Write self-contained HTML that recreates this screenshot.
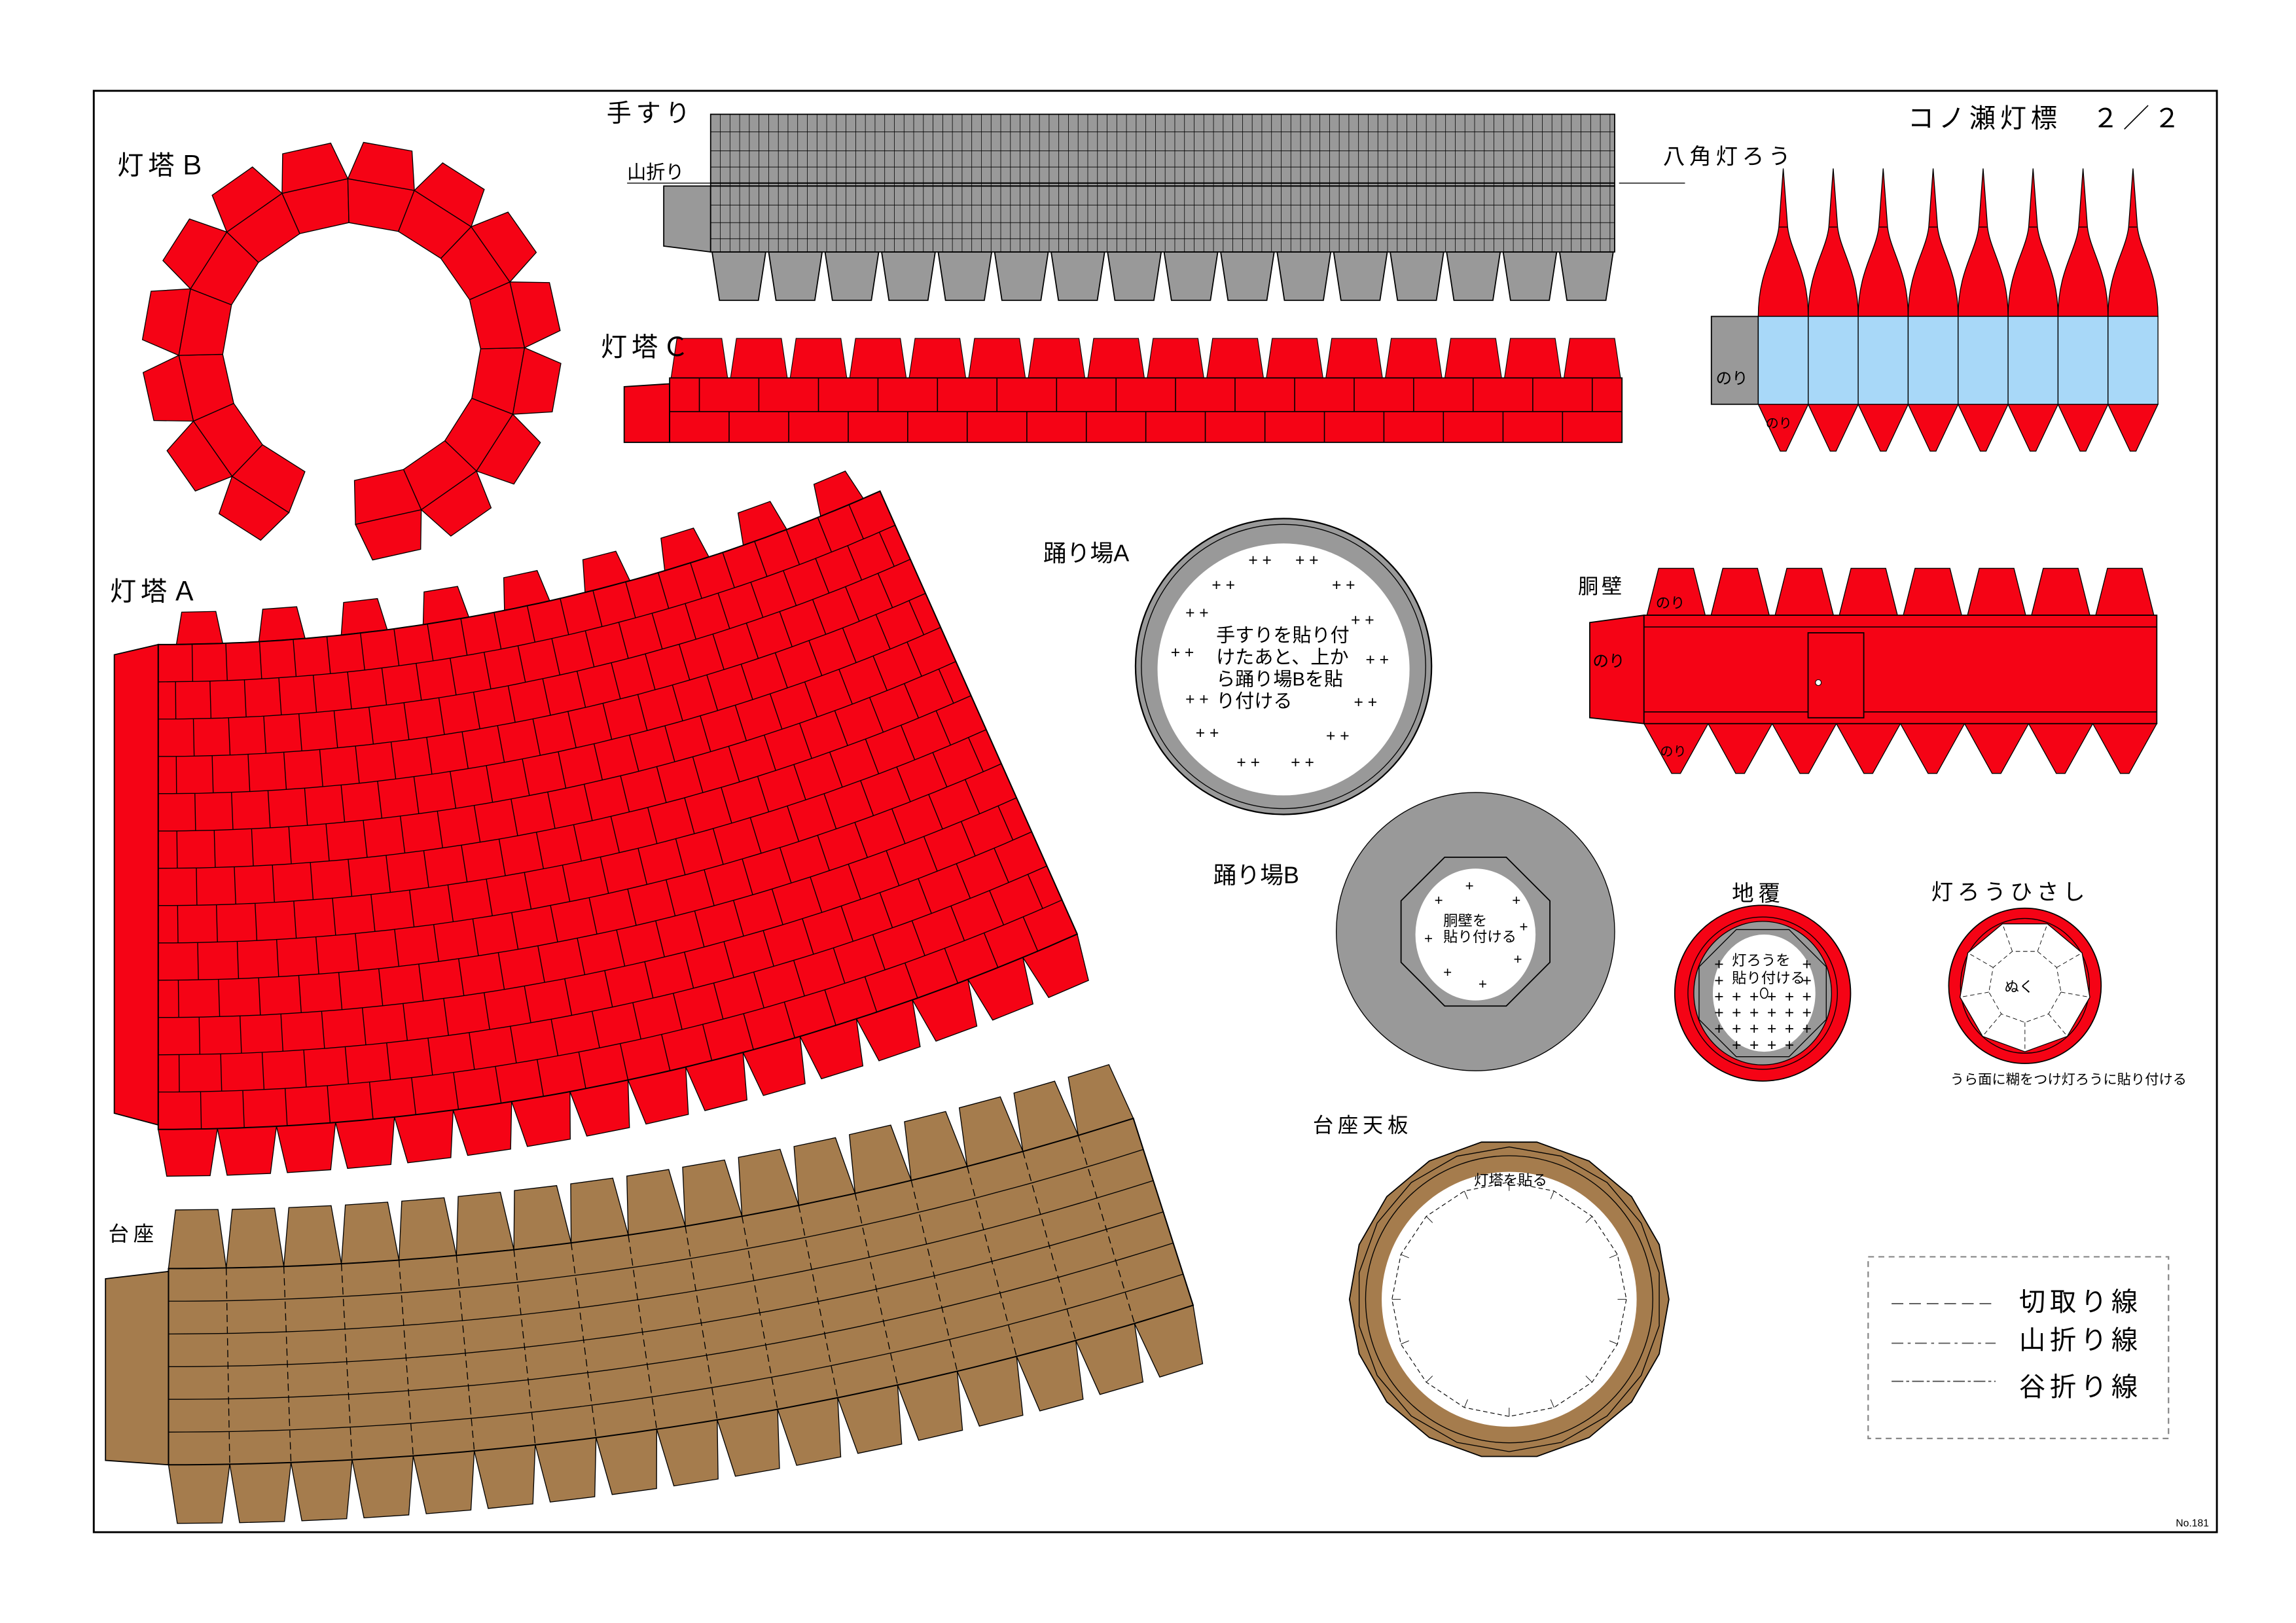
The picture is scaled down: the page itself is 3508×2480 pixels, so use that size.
<!DOCTYPE html>
<html><head><meta charset="utf-8"><style>
html,body{margin:0;padding:0;background:#fff;}
svg{display:block;}
text{font-family:"Liberation Sans","Noto Sans CJK JP",sans-serif;fill:#000;}
</style></head><body>
<svg id="s" xmlns="http://www.w3.org/2000/svg" width="3508" height="2480" viewBox="0 0 1567 1108" preserveAspectRatio="none">
<rect x="0" y="0" width="1567" height="1108" fill="#fff"/>
<rect x="64" y="62" width="1449" height="984" fill="none" stroke="#000" stroke-width="1.3"/>
<g id="g"></g>
<text x="1302" y="87" font-size="18" letter-spacing="3">コノ瀬灯標　２／２</text>
<text x="1485" y="1042" font-size="7">No.181</text>
<text x="414" y="83" font-size="17" letter-spacing="3">手すり</text>
<text x="428" y="122" font-size="13">山折り</text>
<line x1="428" y1="125" x2="485" y2="125" stroke="#000" stroke-width="0.6"/>
<text x="80" y="119" font-size="18" letter-spacing="3">灯塔Ｂ</text>
<text x="410" y="243" font-size="18" letter-spacing="3">灯塔Ｃ</text>
<text x="75" y="410" font-size="18" letter-spacing="3">灯塔Ａ</text>
<text x="74" y="847" font-size="14" letter-spacing="3">台座</text>
<text x="1135" y="112" font-size="15" letter-spacing="3">八角灯ろう</text>
<line x1="1105" y1="125" x2="1150" y2="125" stroke="#000" stroke-width="0.6"/>
<text x="1077" y="405" font-size="14" letter-spacing="2">胴壁</text>
<text x="712" y="383" font-size="16">踊り場A</text>
<text x="828" y="603" font-size="16">踊り場B</text>
<text x="1182" y="615" font-size="15" letter-spacing="3">地覆</text>
<text x="1318" y="614" font-size="15" letter-spacing="3">灯ろうひさし</text>
<text x="1331" y="740" font-size="9.5">うら面に糊をつけ灯ろうに貼り付ける</text>
<text x="896" y="773" font-size="14" letter-spacing="3">台座天板</text>
<rect x="1275" y="858" width="205" height="124" fill="none" stroke="#888" stroke-dasharray="4 3" stroke-width="1"/>
<line x1="1291" y1="890" x2="1362" y2="890" stroke="#555" stroke-dasharray="8 4" stroke-width="0.8"/>
<line x1="1291" y1="917" x2="1362" y2="917" stroke="#555" stroke-dasharray="8 3 2 3" stroke-width="0.8"/>
<line x1="1291" y1="943" x2="1362" y2="943" stroke="#555" stroke-dasharray="8 2 2 2" stroke-width="0.8"/>
<text x="1378" y="895" font-size="18" letter-spacing="3">切取り線</text>
<text x="1378" y="921" font-size="18" letter-spacing="3">山折り線</text>
<text x="1378" y="953" font-size="18" letter-spacing="3">谷折り線</text>
</svg>
<script>
var g=document.getElementById('g'),h='';
var R='#f50315',BR='#a57c4d',GY='#999';
function P(pts,f,sw,extra){return '<polygon points="'+pts.map(function(p){return p[0].toFixed(1)+','+p[1].toFixed(1)}).join(' ')+'" fill="'+f+'" stroke="#000" stroke-width="'+(sw||0.8)+'" '+(extra||'')+'/>';}
function L(a,b,sw,extra){return '<line x1="'+a[0].toFixed(1)+'" y1="'+a[1].toFixed(1)+'" x2="'+b[0].toFixed(1)+'" y2="'+b[1].toFixed(1)+'" stroke="#000" stroke-width="'+(sw||0.7)+'" '+(extra||'')+'/>';}
function pol(cx,cy,r,d){var a=d*Math.PI/180;return [cx+r*Math.cos(a),cy+r*Math.sin(a)];}
function T(x,y,s,t,fs){return '<text x="'+x+'" y="'+y+'" font-size="'+fs+'">'+t+'</text>';}

/* 手すり */
h+=P([[453,127],[485,127],[485,172],[453,168]],GY);
for(var i=0;i<16;i++){var w=(1102-485)/16,x=485+i*w;h+=P([[x+1,172],[x+w-1,172],[x+w-6,205],[x+6,205]],GY);}
h+='<rect x="485" y="78" width="617" height="94" fill="'+GY+'" stroke="#000" stroke-width="0.8"/>';
for(var x=485;x<1102;x+=6.6)h+=L([x,78],[x,172],0.35);
[90,103,114,125,127,140,152,163].forEach(function(y){h+=L([485,y],[1102,y],0.4);});
h+=L([485,125],[1102,125],0.9);h+=L([485,127],[1102,127],0.9);

/* 灯塔C */
h+=P([[426,264],[457,262],[457,302],[426,302]],R);
for(var i=0;i<16;i++){var w=(1107-457)/16,x=457+i*w;h+=P([[x+1,258],[x+w-1,258],[x+w-5,231],[x+5,231]],R,0.5);}
h+='<rect x="457" y="258" width="650" height="44" fill="'+R+'" stroke="#000" stroke-width="0.8"/>';
h+=L([457,281],[1107,281]);
for(var i=0;i<=16;i++){var w=(1107-457)/16;h+=L([457+i*w,281],[457+i*w,302]);var xx=457+(i+0.5)*w;if(xx<1107)h+=L([xx,258],[xx,281]);}

/* 灯塔B ring */
var cx=240,cy=240;
for(var k=0;k<16;k++){
 if(k==4)continue;
 var a=k*22.5+10,d=11.25;
 var r1=88,r2=118,r3=143;
 var p1=pol(cx,cy,r1,a-d),p2=pol(cx,cy,r1,a+d),p3=pol(cx,cy,r2,a+d),p4=pol(cx,cy,r2,a-d);
 h+=P([p1,p2,p3,p4],R,0.6);
 var t1=pol(cx,cy,r2,a-d),t2=pol(cx,cy,r2,a+d),t3=pol(cx,cy,r3,a+d*0.6),t4=pol(cx,cy,r3,a-d*0.6);
 h+=P([t1,t2,t3,t4],R,0.6);
}

function sector(cx,cy,ri,ro,a0,a1,fill,rows,cols,topTabs,topH,botTabs,botH,topSmall){
 var s='',pts=[],n=60;
 if(topTabs){for(var i=0;i<topTabs;i++){
   var w=(a1-a0)/topTabs, am=a0+(i+0.5)*w, hw=topSmall?w*0.28:w*0.5;
   var q=[pol(cx,cy,ri,am-hw),pol(cx,cy,ri,am+hw),pol(cx,cy,ri-topH,am+hw*0.75),pol(cx,cy,ri-topH,am-hw*0.75)];
   s+=P(q,fill,0.6);}}
 if(botTabs){for(var i=0;i<botTabs;i++){
   var w=(a1-a0)/botTabs, am=a0+(i+0.5)*w, hw=w*0.5;
   var q=[pol(cx,cy,ro,am-hw),pol(cx,cy,ro,am+hw),pol(cx,cy,ro+botH,am+hw*0.72),pol(cx,cy,ro+botH,am-hw*0.72)];
   s+=P(q,fill,0.6);}}
 for(var i=0;i<=n;i++)pts.push(pol(cx,cy,ri,a0+(a1-a0)*i/n));
 for(var i=n;i>=0;i--)pts.push(pol(cx,cy,ro,a0+(a1-a0)*i/n));
 s+=P(pts,fill,0.9);
 for(var r=1;r<rows;r++){var rr=ri+(ro-ri)*r/rows,q=[];
   for(var i=0;i<=n;i++)q.push(pol(cx,cy,rr,a0+(a1-a0)*i/n));
   s+='<polyline points="'+q.map(function(p){return p[0].toFixed(1)+','+p[1].toFixed(1)}).join(' ')+'" fill="none" stroke="#000" stroke-width="0.6"/>';}
 if(cols){for(var r=0;r<rows;r++){var rA=ri+(ro-ri)*r/rows,rB=ri+(ro-ri)*(r+1)/rows,off=(r%2)?0.5:0;
   for(var c=0;c<=cols;c++){var f=(c+off)/cols;if(f<=0.001||f>=0.999)continue;var a=a0+(a1-a0)*f;s+=L(pol(cx,cy,rA,a),pol(cx,cy,rB,a),0.6);}}}
 return s;
}
/* 灯塔A */
h+=P([[78,447],[108,440],[108,768],[78,760]],R);
h+=sector(108,-771,1211,1542,90,66,R,13,22,9,22,16,32,true);
h+=L([108,440],[108,768],0.7,'stroke-dasharray="4 2"');
/* 台座 */
h+=P([[72,873],[115,868],[115,1000],[72,997]],BR);
h+=sector(115,-1300,2166,2300,90,72.3,BR,6,0,17,40,17,40,false);
(function(){var cx=115,cy=-1300;for(var c=1;c<17;c++){var a=90+(72.3-90)*c/17;h+=L(pol(cx,cy,2166,a),pol(cx,cy,2300,a),0.6,'stroke-dasharray="5 3"');}})();

/* 八角灯ろう */
h+=P([[1168,216],[1200,216],[1200,276],[1168,276]],GY);
h+=T(1171,262,0,'のり',11);
for(var i=0;i<8;i++){var w=34.1,x=1200+i*w,m=x+w/2;
 h+='<path d="M'+x+',216 C'+x+',185 '+(m-5)+',172 '+(m-3)+',155 L'+m+',115 L'+(m+3)+',155 C'+(m+5)+',172 '+(x+w)+',185 '+(x+w)+',216 Z" fill="'+R+'" stroke="#000" stroke-width="0.6"/>';
 h+=L([m-3,155],[m+3,155],0.6);
 h+=P([[x,276],[x+w,276],[m+2,308],[m-2,308]],R,0.6);
 h+='<rect x="'+x+'" y="216" width="'+w+'" height="60" fill="#a8d8f8" stroke="#000" stroke-width="0.6"/>';}
h+=T(1205,292,0,'のり',9);

/* 胴壁 */
h+=P([[1085,425],[1122,420],[1122,494],[1085,490]],R);
for(var i=0;i<8;i++){var w=(1472-1122)/8,x=1122+i*w;
 h+=P([[x+2,420],[x+10,388],[x+w-10,388],[x+w-2,420]],R,0.6);
 h+=P([[x,494],[x+w,494],[x+w/2+3,528],[x+w/2-3,528]],R,0.6);}
h+='<rect x="1122" y="420" width="350" height="74" fill="'+R+'" stroke="#000" stroke-width="0.8"/>';
h+=L([1122,428],[1472,428]);h+=L([1122,486],[1472,486]);
h+='<rect x="1234" y="432" width="38" height="58" fill="'+R+'" stroke="#000" stroke-width="0.8"/><circle cx="1241" cy="466" r="2" fill="#fff" stroke="#000" stroke-width="0.5"/>';
h+=T(1130,415,0,'のり',10)+T(1087,455,0,'のり',11)+T(1133,516,0,'のり',9);

/* 踊り場A */
h+='<circle cx="876" cy="455" r="101" fill="'+GY+'" stroke="#000" stroke-width="1"/><circle cx="876" cy="455" r="97" fill="none" stroke="#000" stroke-width="0.6"/><circle cx="876" cy="457" r="86" fill="#fff"/>';
var pl=[[858,382],[890,382],[833,399],[915,399],[815,418],[928,423],[805,445],[938,450],[815,477],[930,479],[822,500],[911,502],[850,520],[887,520]];
pl.forEach(function(p){h+=T(p[0]-6,p[1]+4,0,'+&#160;+',11);});
h+=T(830,438,0,'手すりを貼り付',13)+T(830,453,0,'けたあと、上か',13)+T(830,468,0,'ら踊り場Bを貼',13)+T(830,483,0,'り付ける',13);

/* 踊り場B */
h+='<circle cx="1007" cy="636" r="95" fill="'+GY+'" stroke="#000" stroke-width="0.6"/>';
var oc=[];for(var k=0;k<8;k++)oc.push(pol(1007,636,55,k*45+22.5));h+=P(oc,GY,0.8);
h+='<ellipse cx="1007" cy="638" rx="41" ry="45" fill="#fff"/>';
h+=T(985,632,0,'胴壁を',10)+T(985,643,0,'貼り付ける',10);
[[1003,605],[982,615],[1035,615],[1040,633],[1036,655],[975,641],[988,664],[1012,672]].forEach(function(p){h+=T(p[0]-3,p[1]+3,0,'+',10);});

/* 地覆 */
h+='<ellipse cx="1203" cy="678" rx="60" ry="60" fill="'+R+'" stroke="#000" stroke-width="0.8"/><ellipse cx="1203" cy="678" rx="51" ry="52" fill="none" stroke="#000" stroke-width="0.6"/><ellipse cx="1203" cy="678" rx="47" ry="49" fill="'+GY+'" stroke="#000" stroke-width="0.6"/>';
var oc2=[];for(var k=0;k<8;k++)oc2.push(pol(1203,678,47,k*45+22.5));h+=P(oc2,GY,0.6);
h+='<ellipse cx="1204" cy="678" rx="35" ry="40" fill="#fff"/>';
for(var yy=647;yy<720;yy+=11)for(var xx=1173;xx<1240;xx+=12){if(Math.hypot(xx-1204,yy-678)<40&&!(yy<670&&xx>1180&&xx<1232))h+=T(xx-3,yy+4,0,'+',11);}
h+=T(1182,659,0,'灯ろうを',10)+T(1182,671,0,'貼り付ける',10);
h+='<ellipse cx="1204" cy="678" rx="2.5" ry="3.5" fill="#fff" stroke="#000" stroke-width="0.7"/>';

/* 灯ろうひさし */
h+='<ellipse cx="1382" cy="673" rx="52" ry="53" fill="'+R+'" stroke="#000" stroke-width="0.8"/><ellipse cx="1382" cy="673" rx="44" ry="46" fill="none" stroke="#000" stroke-width="0.6"/>';
var oc3=[];for(var k=0;k<9;k++)oc3.push(pol(1382,673,45,k*40+10));h+=P(oc3,'#fff',0.6);
var oc4=[];for(var k=0;k<9;k++)oc4.push(pol(1382,673,25,k*40+10));h+=P(oc4,'none',0.4,'stroke-dasharray="3 2"');
for(var k=0;k<9;k++)h+=L(pol(1382,673,25,k*40+10),pol(1382,673,44,k*40+10),0.4,'stroke-dasharray="3 2"');
h+=T(1368,677,0,'ぬく',10);

/* 台座天板 */
var d1=[],d2=[];for(var k=0;k<18;k++){d1.push(pol(1030,887,109,k*20));d2.push(pol(1030,887,104,k*20+10));}
h+=P(d1,BR,0.8);h+=P(d2,'none',0.6);
h+='<circle cx="1030" cy="887" r="98" fill="'+BR+'" stroke="#000" stroke-width="0.6"/><circle cx="1030" cy="887" r="87" fill="#fff"/>';
var d3=[];for(var k=0;k<16;k++)d3.push(pol(1030,887,80,k*22.5));h+=P(d3,'none',0.5,'stroke-dasharray="3 2"');
for(var k=0;k<16;k++)h+=L(pol(1030,887,74,k*22.5),pol(1030,887,80,k*22.5),0.4);
h+=T(1006,809,0,'灯塔を貼る',10);
g.innerHTML=h;
</script>
</body></html>
